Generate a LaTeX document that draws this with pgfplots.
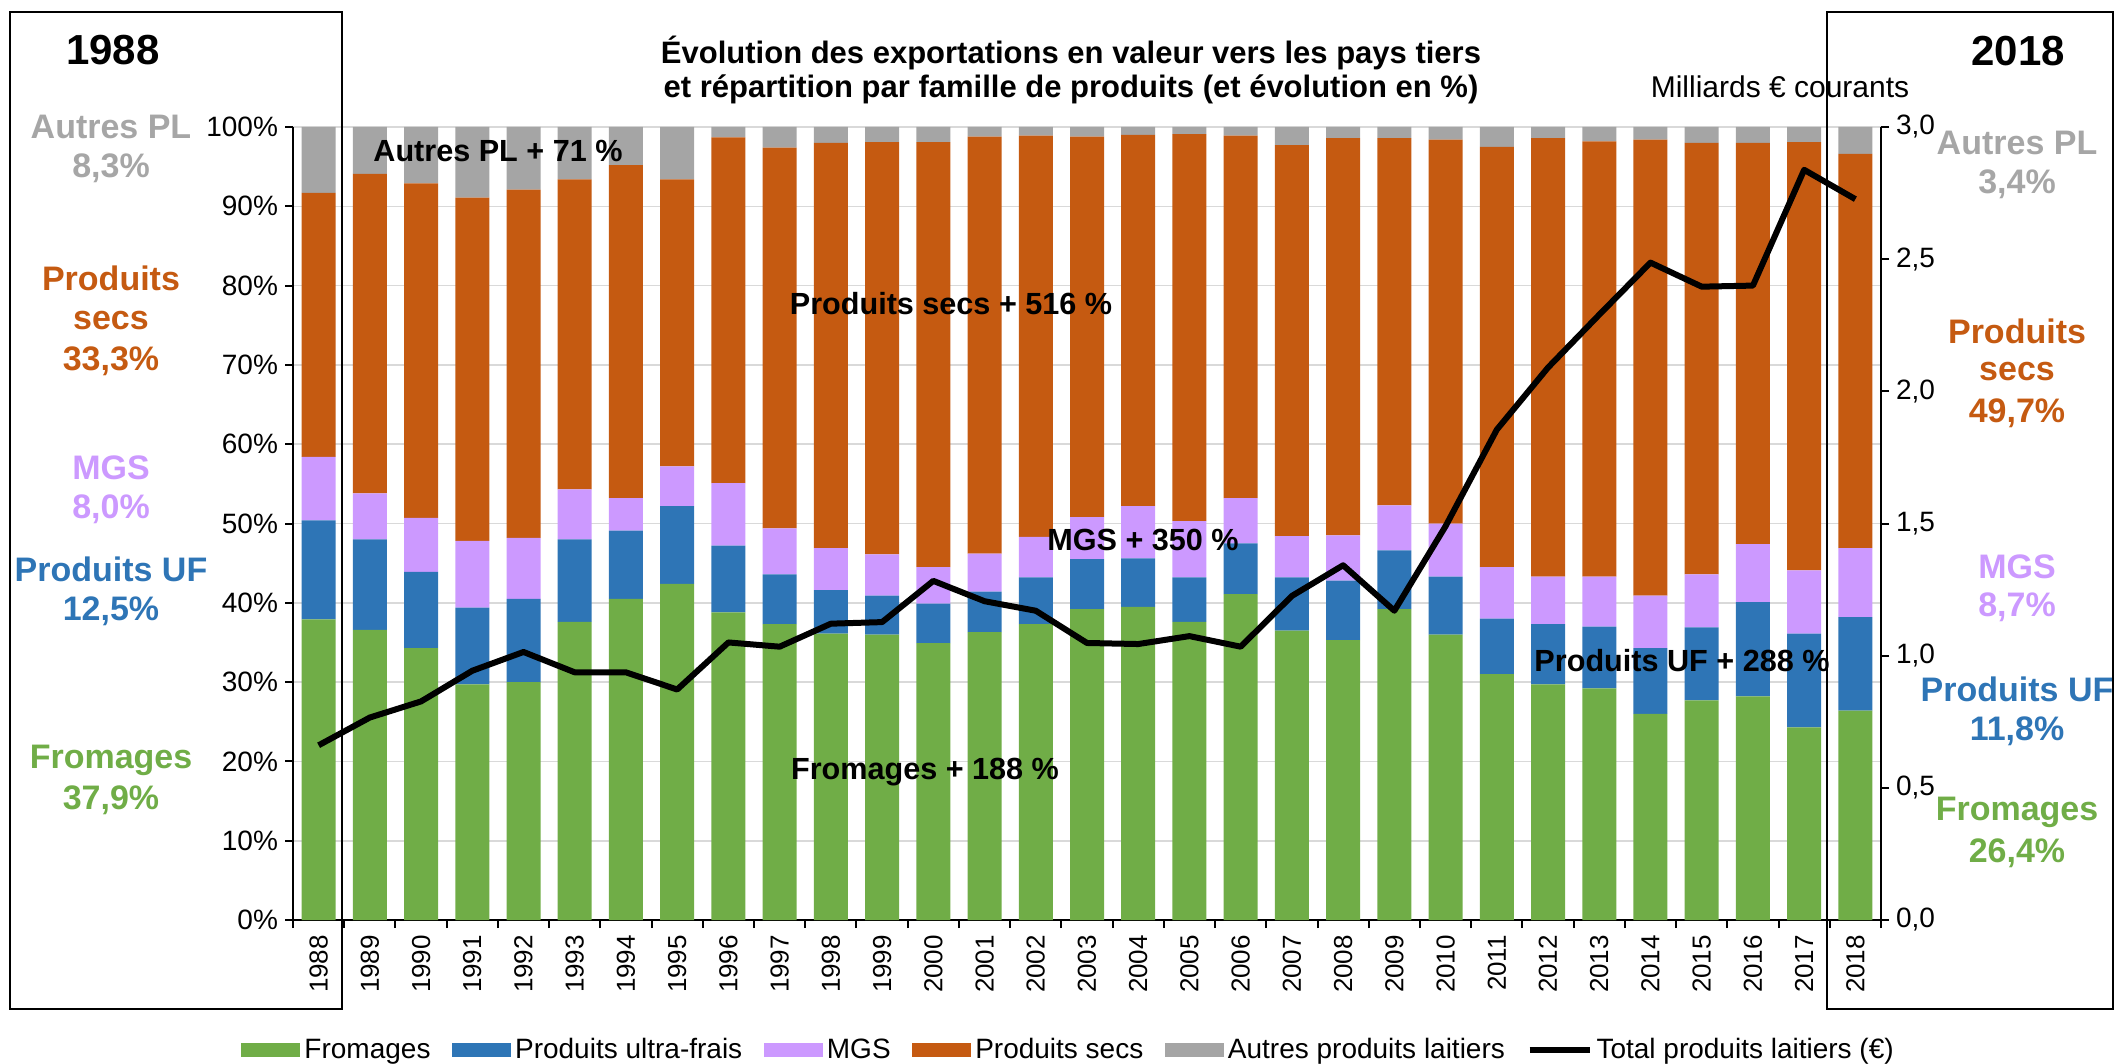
\documentclass[border=0pt]{standalone}
\usepackage{fontspec}
\setmainfont{Liberation Sans}
\usepackage{pgfplots}
\usepackage{pgfplotstable}
\pgfplotsset{compat=1.18}
\definecolor{cF}{HTML}{70AD47}
\definecolor{cU}{HTML}{2E75B6}
\definecolor{cM}{HTML}{CC99FF}
\definecolor{cS}{HTML}{C55A11}
\definecolor{cA}{HTML}{A5A5A5}
\definecolor{cAt}{HTML}{A6A6A6}
\pgfplotsset{
  barleg/.style={legend image code/.code={\fill[##1] (0pt,-3.5pt) rectangle (29.5pt,3.5pt);}},
  lineleg/.style={legend image code/.code={\draw[##1] (0pt,0pt) -- (30pt,0pt);}},
}
\pgfplotstableread{
x  F    U    M    S    A    T
0  37.9 12.5 8.0  33.3 8.3  0.661
1  36.6 11.4 5.8  40.3 5.9  0.766
2  34.3 9.6  6.8  42.2 7.1  0.827
3  29.7 9.7  8.4  43.3 8.9  0.943
4  30.0 10.5 7.7  43.9 7.9  1.014
5  37.6 10.4 6.3  39.1 6.6  0.937
6  40.5 8.6  4.1  42.0 4.8  0.937
7  42.4 9.8  5.0  36.2 6.6  0.872
8  38.8 8.4  7.9  43.6 1.3  1.050
9  37.3 6.3  5.8  48.0 2.6  1.034
10 36.1 5.5  5.3  51.1 2.0  1.121
11 36.0 4.9  5.2  52.0 1.9  1.127
12 34.9 5.0  4.6  53.6 1.9  1.283
13 36.3 5.1  4.8  52.6 1.2  1.206
14 37.3 5.9  5.1  50.6 1.1  1.170
15 39.2 6.3  5.3  48.0 1.2  1.048
16 39.5 6.1  6.6  46.8 1.0  1.044
17 37.6 5.6  7.1  48.8 0.9  1.074
18 41.1 6.4  5.7  45.7 1.1  1.034
19 36.5 6.7  5.2  49.3 2.3  1.226
20 35.3 7.5  5.7  50.1 1.4  1.342
21 39.2 7.4  5.7  46.3 1.4  1.170
22 36.0 7.3  6.7  48.4 1.6  1.490
23 31.0 7.0  6.5  53.0 2.5  1.855
24 29.7 7.6  6.0  55.3 1.4  2.090
25 29.2 7.8  6.3  54.9 1.8  2.290
26 26.0 8.3  6.6  57.5 1.6  2.487
27 27.7 9.2  6.7  54.4 2.0  2.396
28 28.2 11.9 7.3  50.6 2.0  2.400
29 24.3 11.8 8.0  54.0 1.9  2.838
30 26.4 11.8 8.7  49.7 3.4  2.727
}\data
\begin{document}
\begin{tikzpicture}
\path[use as bounding box] (0,0) rectangle (1058pt,-532pt);
\begin{axis}[
  at={(146.5pt,-460pt)}, anchor=south west,
  scale only axis, width=794pt, height=396.5pt,
  ybar stacked, bar width=17pt,
  xmin=-0.5, xmax=30.5, ymin=0, ymax=100,
  axis x line*=bottom, axis y line*=left,
  axis line style={line width=1.3pt, black},
  xtick={0,...,30},
  xticklabel={\pgfmathtruncatemacro\yr{1988+\tick}\yr},
  xticklabel style={font=\fontsize{13}{15}\selectfont, rotate=90, anchor=east},
  minor xtick={-0.5,0.5,...,30.5},
  major x tick style={draw=none},
  ytick={0,10,...,100},
  yticklabel={\pgfmathprintnumber{\tick}\%},
  yticklabel style={font=\fontsize{14}{16}\selectfont},
  /pgf/number format/assume math mode=true,
  tick align=outside, major tick length=4pt, minor tick length=4pt,
  tick style={black, line width=1pt},
  ymajorgrids, major grid style={draw=black!15, line width=0.8pt},
  legend style={at={(-0.0327,-0.164)}, anchor=west, draw=none, fill=none, inner sep=0pt,
    legend columns=-1, font=\fontsize{14}{16}\selectfont,
    /tikz/every even column/.append style={column sep=8.8pt}},
]
\addplot[fill=cF, draw=none, barleg] table[x=x,y=F]{\data};
\addplot[fill=cU, draw=none, barleg] table[x=x,y=U]{\data};
\addplot[fill=cM, draw=none, barleg] table[x=x,y=M]{\data};
\addplot[fill=cS, draw=none, barleg] table[x=x,y=S]{\data};
\addplot[fill=cA, draw=none, barleg] table[x=x,y=A]{\data};
\addlegendentry{Fromages}
\addlegendentry{Produits ultra-frais}
\addlegendentry{MGS}
\addlegendentry{Produits secs}
\addlegendentry{Autres produits laitiers}
\addlegendimage{black, line width=3pt, lineleg}
\addlegendentry{Total produits laitiers (€)}
\end{axis}
\begin{axis}[
  at={(146.5pt,-460pt)}, anchor=south west,
  scale only axis, width=794pt, height=396.5pt,
  xmin=-0.5, xmax=30.5, ymin=0, ymax=3,
  axis x line=none, axis y line*=right,
  axis line style={line width=1.3pt, black},
  ytick={0,0.5,...,3},
  yticklabel style={font=\fontsize{14}{16}\selectfont, /pgf/number format/.cd, fixed, fixed zerofill, precision=1, use comma, assume math mode=true},
  tick align=outside, major tick length=4pt,
  tick style={black, line width=1pt},
]
\addplot[black, line width=3pt, line join=round, mark=none] table[x=x,y=T]{\data};
\end{axis}
\begin{scope}[x=0.5pt,y=-0.5pt]
\draw[line width=1pt] (9.5,12) rectangle (342,1009);
\draw[line width=1pt] (1827,12) rectangle (2113,1009);
\node[font=\bfseries\fontsize{15.5}{18}\selectfont] at (1071,53) {Évolution des exportations en valeur vers les pays tiers};
\node[font=\bfseries\fontsize{15.5}{18}\selectfont] at (1071,89) {et répartition par famille de produits (et évolution en \%)};
\node[font=\fontsize{15}{18}\selectfont] at (1780,87) {Milliards € courants};
\node[font=\bfseries\fontsize{21}{24}\selectfont] at (113,50) {1988};
\node[font=\bfseries\fontsize{21}{24}\selectfont] at (2018,51) {2018};
\begin{scope}[every node/.style={font=\bfseries\fontsize{17}{20}\selectfont}]
\node[text=cAt] at (111,127) {Autres PL};
\node[text=cAt] at (111,168) {8,3\%};
\node[text=cS] at (111,278) {Produits};
\node[text=cS] at (111,321) {secs};
\node[text=cS] at (111,361) {33,3\%};
\node[text=cM] at (111,468) {MGS};
\node[text=cM] at (111,509) {8,0\%};
\node[text=cU] at (111,569) {Produits UF};
\node[text=cU] at (111,611) {12,5\%};
\node[text=cF] at (111,760) {Fromages};
\node[text=cF] at (111,800) {37,9\%};
\node[text=cAt] at (2017,143) {Autres PL};
\node[text=cAt] at (2017,184) {3,4\%};
\node[text=cS] at (2017,331) {Produits};
\node[text=cS] at (2017,372) {secs};
\node[text=cS] at (2017,413) {49,7\%};
\node[text=cM] at (2017,567) {MGS};
\node[text=cM] at (2017,607) {8,7\%};
\node[text=cU] at (2017,689) {Produits UF};
\node[text=cU] at (2017,731) {11,8\%};
\node[text=cF] at (2017,812) {Fromages};
\node[text=cF] at (2017,853) {26,4\%};
\end{scope}
\begin{scope}[every node/.style={font=\bfseries\fontsize{15.3}{18}\selectfont}]
\node at (498,151) {Autres PL + 71 \%};
\node at (951,304) {Produits secs + 516 \%};
\node at (1143,540) {MGS + 350 \%};
\node at (1682,661) {Produits UF + 288 \%};
\node at (925,772) {Fromages + 188 \%};
\end{scope}
\end{scope}
\end{tikzpicture}
\end{document}
